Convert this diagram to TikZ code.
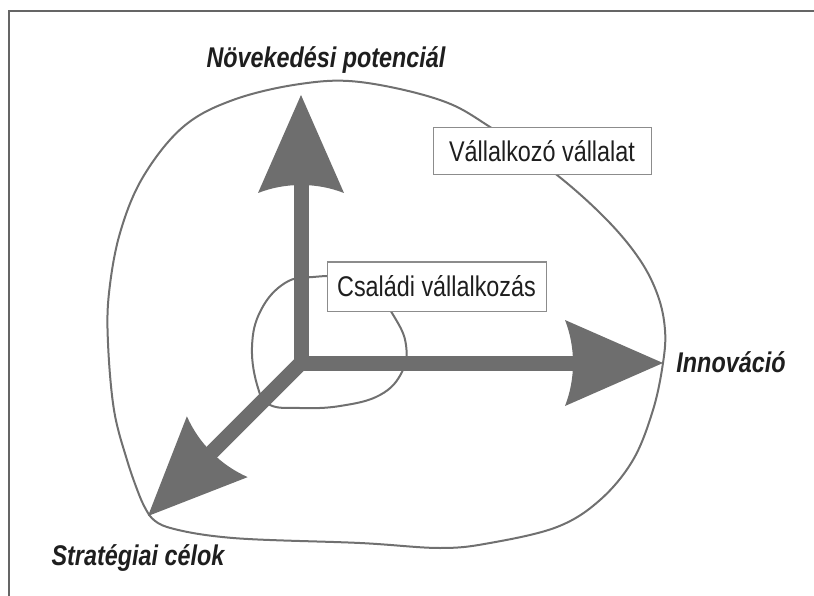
\documentclass[tikz,border=0pt]{standalone}
\usepackage{fontspec}
\setmainfont{Liberation Sans}
\definecolor{arrowgray}{HTML}{6E6E6E}
\definecolor{curvegray}{HTML}{707070}
\definecolor{boxgray}{HTML}{8C8C8C}
\definecolor{textgray}{HTML}{1E1E1E}
\newcommand{\narrowtxt}[1]{\scalebox{0.82}[1]{#1}}
\tikzset{
  arrowhead/.pic={\fill[arrowgray] (0,0) -- (-98,43) .. controls (-93,30) and (-90,16) .. (-90,0)
      .. controls (-90,-16) and (-93,-30) .. (-98,-43) -- cycle;},
  shaft/.style={line width=15pt, draw=arrowgray, line join=miter},
  outline/.style={draw=curvegray, line width=2pt},
  labelbox/.style={draw=boxgray, line width=1pt, fill=white, text=textgray,
    font=\fontsize{28.5}{32}\selectfont, inner sep=0pt},
  axislabel/.style={text=textgray, font=\fontsize{28.5}{32}\selectfont\bfseries\itshape, inner sep=0pt, anchor=base}
}
\begin{document}
\begin{tikzpicture}[x=1pt,y=-1pt]
\useasboundingbox (0,0) rectangle (814,596);
% frame
\draw[draw=curvegray!90!black, line width=2pt] (9,596) -- (9,11) -- (814,11);
% outer curve (Vállalkozó vállalat)
\draw[outline] plot[smooth, tension=0.6] coordinates {
 (148,513) (167,527) (233,538) (360,543) (440,548) (490,543) (557,527) (600,500)
 (633,460) (653,410) (663,363) (665,330) (658,296) (640,260) (607,220) (557,175)
 (490,127) (440,100) (360,82) (300,84) (233,100) (183,127) (143,177) (120,233)
 (109,293) (108,343) (114,410) (127,460) (140,497) (148,513)};
% inner curve (Családi vállalkozás)
\draw[outline] plot[smooth cycle, tension=0.7] coordinates {
 (313,277) (345,278) (375,293) (395,318) (406,345) (402,372) (380,395)
 (340,406) (300,408) (270,405) (258,388) (252,347) (261,310) (285,283)};
% axes
\coordinate (O) at (301,363);
\coordinate (N) at (301,95);
\coordinate (E) at (663,363);
\coordinate (S) at (148,516);
\draw[shaft, shorten >=85pt] (O) -- (S);
\draw[shaft, shorten <=85pt, shorten >=85pt] (N) -- (O) -- (E);
\pic[rotate=90] at (N) {arrowhead};
\pic[rotate=0] at (E) {arrowhead};
\pic[rotate=225] at (S) {arrowhead};
% boxes
\node[labelbox, minimum width=218pt, minimum height=47pt] (vv) at (542,151) {\narrowtxt{Vállalkozó vállalat}};
\node[labelbox, minimum width=219pt, minimum height=49pt] (cv) at (436.5,286.5) {\narrowtxt{Családi vállalkozás}};
% axis labels
\node[axislabel] (np) at (326,68) {\narrowtxt{Növekedési potenciál}};
\node[axislabel] (in) at (731,372) {\narrowtxt{Innováció}};
\node[axislabel] (sc) at (138,565) {\narrowtxt{Stratégiai célok}};
\end{tikzpicture}
\end{document}
